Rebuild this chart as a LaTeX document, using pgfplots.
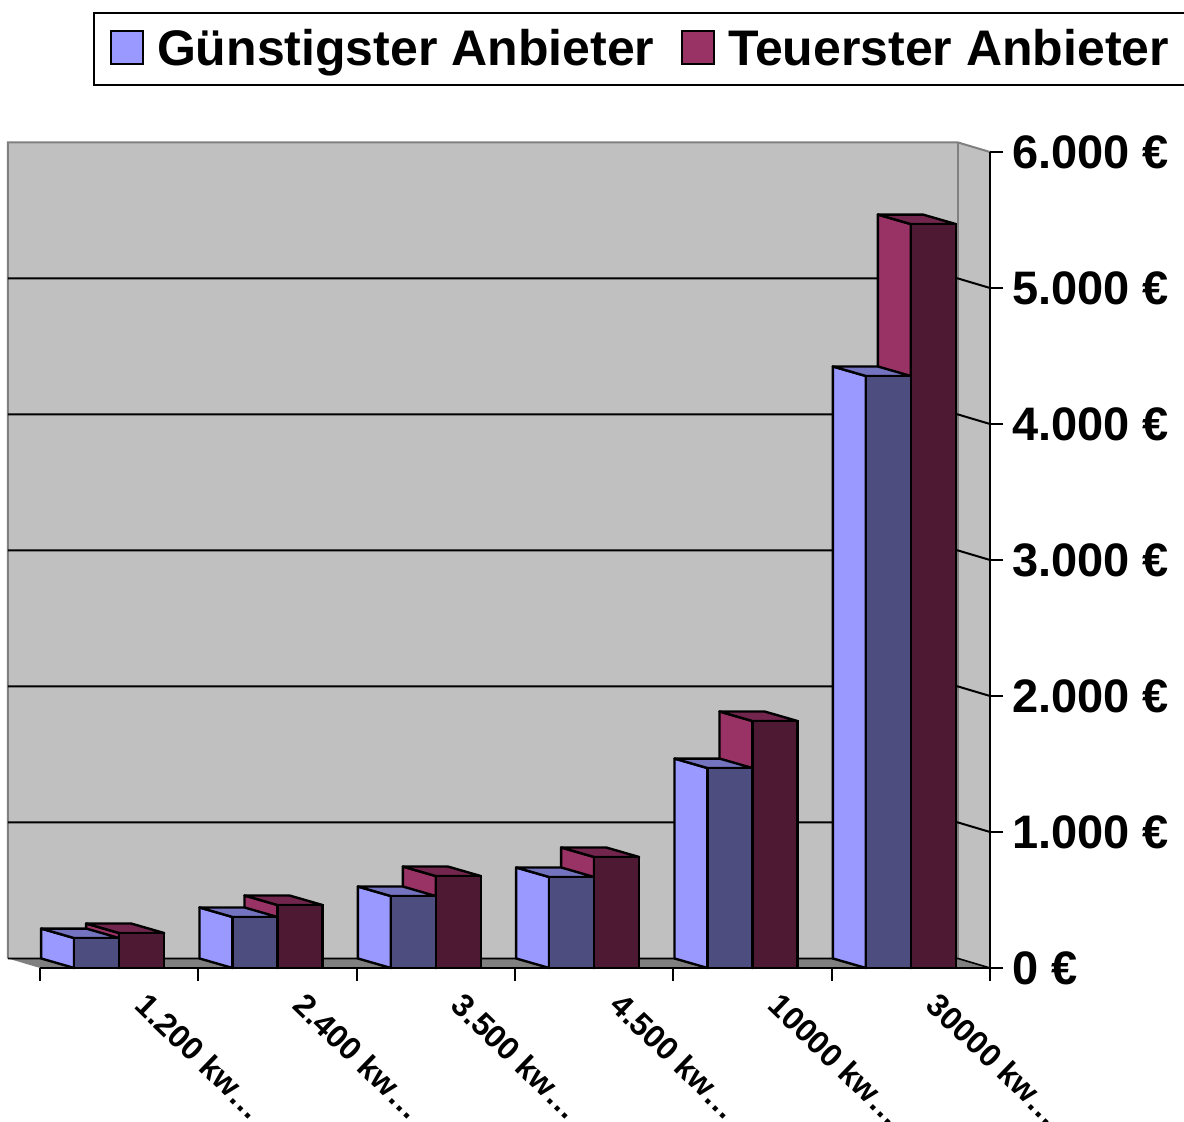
\documentclass[border=0pt]{standalone}
\usepackage{pgfplots}
\pgfplotsset{compat=1.18}
\usepackage{pgfplotstable}
\usepackage{fontspec}
\setmainfont{Liberation Sans}

\definecolor{gside}{HTML}{9999FF}
\definecolor{gtop}{HTML}{7373C0}
\definecolor{gfront}{HTML}{4D4D80}
\definecolor{tside}{HTML}{993366}
\definecolor{ttop}{HTML}{73264D}
\definecolor{tfront}{HTML}{4D1933}
\definecolor{wall}{HTML}{C0C0C0}
\definecolor{floorc}{HTML}{808080}

\pgfplotstableread{
i g t
0 220 257
1 375 463
2 529 676
3 669 816
4 1470 1816
5 4353 5470
}\datatable

\begin{document}
\begin{tikzpicture}
\begin{axis}[
  scale only axis, width=475pt, height=408pt,
  xmin=40, xmax=990, ymin=0, ymax=6000,
  clip=false, axis on top,
  axis x line=bottom, axis y line=right,
  axis line style={-, black, line width=1pt},
  tick align=outside, major tick length=6.5pt,
  tick style={black, line width=1pt},
  xtick={40,198.3333,356.6667,515,673.3333,831.6667,990},
  xticklabels={,,,,,,},
  extra x ticks={119.1667,277.5,435.8333,594.1667,752.5,910.8333},
  extra x tick labels={{1.200 kw\ldots},{2.400 kw\ldots},{3.500 kw\ldots},{4.500 kw\ldots},{10000 kw\ldots},{30000 kw\ldots}},
  extra x tick style={major tick length=0pt, tick style={draw=none},
    tick label style={xshift=15pt, yshift=-6.5pt, rotate=-44, anchor=north west,
      font=\fontsize{16}{19}\selectfont\bfseries}},
  ytick={0,1000,2000,3000,4000,5000,6000},
  yticklabels={0 €,1.000 €,2.000 €,3.000 €,4.000 €,5.000 €,6.000 €},
  yticklabel style={font=\fontsize{23.5}{28}\selectfont\bfseries, xshift=1pt},
  legend columns=2,
  legend image code/.code={\draw[#1, line width=1pt] (0pt,-7.5pt) rectangle (16pt,9pt);},
  legend style={at={(0.0558,1.1715)}, anchor=north west, draw=black, line width=1pt,
    inner xsep=8pt, inner ysep=8.25pt,
    nodes={inner sep=0pt, font=\fontsize{25}{30}\selectfont\bfseries},
    /tikz/every odd column/.append style={column sep=6.5pt},
    /tikz/every even column/.append style={column sep=13.5pt}},
]
% bounding box of the whole picture
\coordinate (bbsw) at (axis cs:0,-1132.35);
\coordinate (bbne) at (axis cs:1184,7117.65);
% walls and floor
\fill[wall] (axis cs:8,70) rectangle (axis cs:958,6070);
\fill[wall] (axis cs:958,70) -- (axis cs:990,0) -- (axis cs:990,6000) -- (axis cs:958,6070) -- cycle;
\fill[floorc] (axis cs:40,0) -- (axis cs:990,0) -- (axis cs:958,70) -- (axis cs:8,70) -- cycle;
\draw[floorc, line width=1pt] (axis cs:8,70) -- (axis cs:8,6070) -- (axis cs:958,6070) -- (axis cs:990,6000);
\draw[floorc, line width=0.6pt] (axis cs:958,6070) -- (axis cs:958,70);
\draw[black, line width=1pt] (axis cs:8,1070) -- (axis cs:958,1070) -- (axis cs:990,1000);
\draw[black, line width=1pt] (axis cs:8,2070) -- (axis cs:958,2070) -- (axis cs:990,2000);
\draw[black, line width=1pt] (axis cs:8,3070) -- (axis cs:958,3070) -- (axis cs:990,3000);
\draw[black, line width=1pt] (axis cs:8,4070) -- (axis cs:958,4070) -- (axis cs:990,4000);
\draw[black, line width=1pt] (axis cs:8,5070) -- (axis cs:958,5070) -- (axis cs:990,5000);
\draw[black, line width=0.8pt] (axis cs:8,70) -- (axis cs:958,70) -- (axis cs:990,0);

\addlegendimage{fill=gside, draw=black}
\addlegendentry{Günstigster Anbieter}
\addlegendimage{fill=tside, draw=black}
\addlegendentry{Teuerster Anbieter}

\pgfplotsforeachungrouped \i in {0,1,2,3,4,5}{%
  \pgfplotstablegetelem{\i}{g}\of\datatable \let\gv\pgfplotsretval
  \pgfplotstablegetelem{\i}{t}\of\datatable \let\tv\pgfplotsretval
  \pgfmathsetmacro\cc{119.1667+158.3333*\i}%
  \pgfmathsetmacro\xa{\cc-45}%
  \pgfmathsetmacro\xb{\cc-78}%
  \pgfmathsetmacro\xc{\cc-33}%
  \pgfmathsetmacro\xd{\cc+45}%
  \pgfmathsetmacro\xe{\cc+12}%
  \pgfmathsetmacro\gb{\gv+70}%
  \pgfmathsetmacro\tb{\tv+70}%
  \edef\temp{%
    \noexpand\addplot[forget plot, fill=tside, draw=black, line width=1.2pt, line join=round] coordinates {(\cc,0) (\cc,\tv) (\xc,\tb) (\xc,70)} -- cycle;
    \noexpand\addplot[forget plot, fill=ttop, draw=black, line width=1.2pt, line join=round] coordinates {(\cc,\tv) (\xd,\tv) (\xe,\tb) (\xc,\tb)} -- cycle;
    \noexpand\addplot[forget plot, fill=gside, draw=black, line width=1.2pt, line join=round] coordinates {(\xa,0) (\xa,\gv) (\xb,\gb) (\xb,70)} -- cycle;
    \noexpand\addplot[forget plot, fill=gtop, draw=black, line width=1.2pt, line join=round] coordinates {(\xa,\gv) (\cc,\gv) (\xc,\gb) (\xb,\gb)} -- cycle;
  }\temp
}

\addplot[forget plot, ybar, bar width=45, bar shift=-22.5, fill=gfront, draw=black, line width=1.2pt]
  table[x expr={119.1667+158.3333*\thisrow{i}}, y=g] {\datatable};
\addplot[forget plot, ybar, bar width=45, bar shift=22.5, fill=tfront, draw=black, line width=1.2pt]
  table[x expr={119.1667+158.3333*\thisrow{i}}, y=t] {\datatable};
\end{axis}
\pgfresetboundingbox
\useasboundingbox (bbsw) rectangle (bbne);
\end{tikzpicture}
\end{document}
